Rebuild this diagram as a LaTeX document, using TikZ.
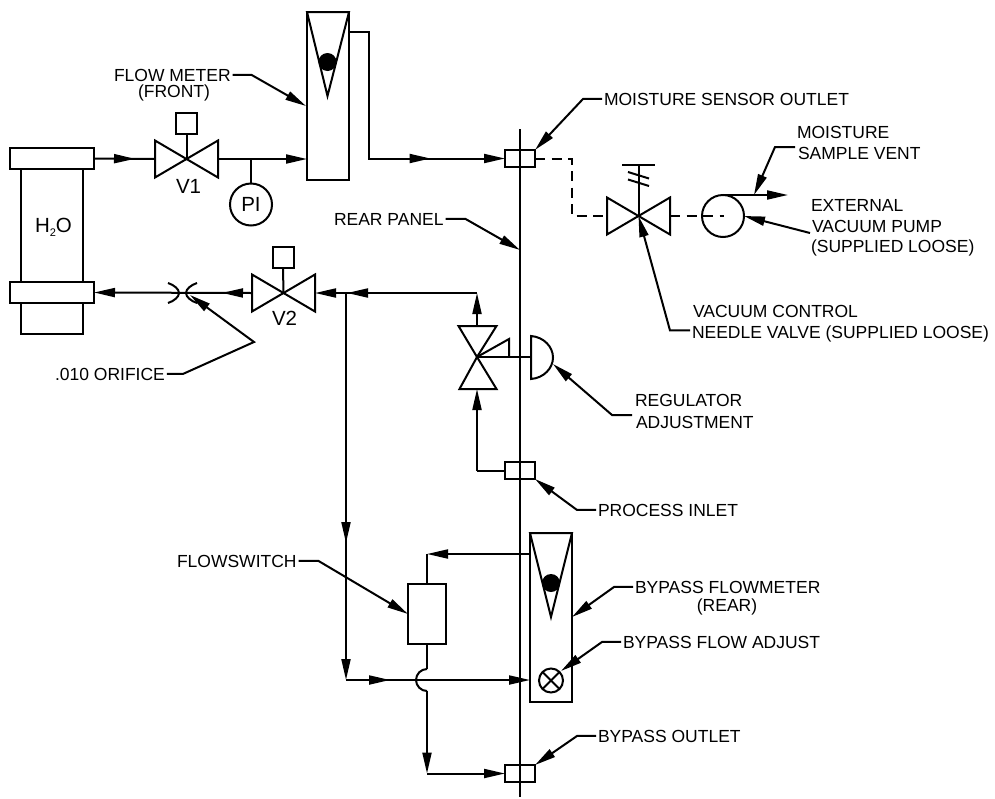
\documentclass[tikz,border=0pt]{standalone}
\usepackage{fontspec}
\setmainfont{Liberation Sans}
\usetikzlibrary{arrows.meta,decorations.markings}
\tikzset{
  tipa/.tip={Triangle[length=21pt,width=9pt]},
  pipe/.style={line width=2pt,line join=miter},
  flow/.style={pipe,-{tipa}},
  thinline/.style={line width=1.9pt},
  leader/.style={line width=2pt,-{tipa},shorten <=2pt},
  vac/.style={pipe,dash pattern=on 10pt off 6.5pt},
  box/.style={draw,line width=2pt,inner sep=0pt,outer sep=0pt},
  label/.style={inner sep=0pt,outer sep=0pt,anchor=base west,font=\fontsize{17.5}{20}\selectfont,text=black},
  biglabel/.style={label,font=\fontsize{20.5}{24}\selectfont},
  clabel/.style={label,anchor=base},
  mid/.style={postaction={decorate,decoration={markings,mark=at position #1 with {\arrow{tipa}}}}}
}
\newcommand{\hvalve}[3]{%
  \coordinate (#1) at (#2,#3);
  \coordinate (#1L) at (#2-31.5,#3);
  \coordinate (#1R) at (#2+31.5,#3);
  \draw[pipe] (#1) -- ++(-31.5,-18.5) -- ++(0,37) -- cycle;
  \draw[pipe] (#1) -- ++(31.5,-18.5) -- ++(0,37) -- cycle;
}
\begin{document}
\begin{tikzpicture}[x=1pt,y=-1pt]
\useasboundingbox[fill=white] (0,0) rectangle (995,798);

% panel
\coordinate (panelTop) at (520,129);
\coordinate (panelBot) at (520,797);
\draw[thinline] (panelTop) -- (panelBot);

% tank
\node[box,minimum width=84pt,minimum height=21pt] (fl1) at (52,158.5) {};
\node[box,minimum width=84pt,minimum height=21pt] (fl2) at (52,292.5) {};
\node[box,minimum width=62pt,minimum height=113pt] (tank) at (52,225.5) {};
\node[box,minimum width=62pt,minimum height=31pt] (tankb) at (52,318.5) {};

% flow meter front
\node[box,minimum width=42pt,minimum height=168pt] (fm) at (328,96) {};
\draw[pipe] (fm.north west) -- (fm.north east) -- (327.5,96) -- cycle;
\node[circle,fill=black,minimum size=18pt,inner sep=0pt] (fmball) at (327.5,62) {};

% bypass flow meter
\node[box,minimum width=42pt,minimum height=169pt] (bfm) at (551,617.5) {};
\draw[pipe] (bfm.north west) -- (bfm.north east) -- (551,617) -- cycle;
\node[circle,fill=black,minimum size=18pt,inner sep=0pt] (bball) at (551,583) {};
\node[box,circle,minimum size=24pt] (badj) at (551,680.5) {};
\draw[pipe] (badj.135) -- (badj.-45);
\draw[pipe] (badj.45) -- (badj.-135);

% couplers
\node[box,minimum width=30pt,minimum height=17pt] (cA) at (520,158.5) {};
\node[box,minimum width=30pt,minimum height=17pt] (cB) at (520,470.5) {};
\node[box,minimum width=30pt,minimum height=17pt] (cC) at (520,773.5) {};

% flowswitch
\node[box,minimum width=38pt,minimum height=60pt] (fs) at (427,614) {};

% valves
\hvalve{vOne}{186.5}{159}
\node[box,minimum width=21pt,minimum height=21pt] (vOneBox) at (186.5,123.5) {};
\draw[pipe] (vOneBox.south) -- (vOne);
\hvalve{vTwo}{283.5}{293}
\node[box,minimum width=21pt,minimum height=21pt] (vTwoBox) at (283,257.5) {};
\draw[pipe] (vTwoBox.south) -- (vTwo);
\hvalve{vNeedle}{638.5}{216}
\coordinate (needleTop) at (638.5,165);
\coordinate (barL) at (622,165);
\coordinate (barR) at (655,165);
\draw[pipe] (vNeedle) -- (needleTop);
\draw[pipe] (barL) -- (barR);
\coordinate (hA) at (628,172); \coordinate (hB) at (649,178.5);
\coordinate (hC) at (628,179.5); \coordinate (hD) at (649,186);
\draw[pipe] (hA) -- (hB);
\draw[pipe] (hC) -- (hD);

% regulator
\coordinate (reg) at (477,357);
\draw[pipe] (reg) -- (458.5,326) -- (496.5,326) -- cycle;
\draw[pipe] (reg) -- (459.5,389) -- (496.5,389) -- cycle;
\coordinate (regTop) at (477,326);
\coordinate (regBot) at (477,389);
\coordinate (domeT) at (531,336);
\coordinate (domeB) at (531,379);
\coordinate (domeM) at (531,357);
\draw[pipe] (reg) -- (509,339) -- (509,357);
\draw[pipe] (reg) -- (domeM);
\draw[pipe] (domeT) .. controls (544,337) and (553,347) .. (553,357.5) .. controls (553,368) and (544,378) .. (domeB) -- cycle;

% PI
\node[box,circle,minimum size=42pt,font=\fontsize{20.5}{24}\selectfont,text=black] (pi) at (251,204.5) {PI};
\coordinate (tee) at (251,159);
\draw[pipe] (tee) -- (pi.north);

% pump
\node[box,circle,minimum size=42pt] (pump) at (723,216) {};

% orifice
\coordinate (orif) at (183,293);
\draw[pipe] (168,283) .. controls (174,285) and (179,289) .. (179,293) .. controls (179,297) and (174,301) .. (168,303);
\draw[pipe] (197,283) .. controls (191,285) and (186,289) .. (186,293) .. controls (186,297) and (191,301) .. (197,303);

% pipes
\draw[pipe,mid=41pt] (fl1.east) -- (vOneL);
\draw[flow] (vOneR) -- (fm.west |- vOne);
\coordinate (fmOut) at (349,32);
\draw[flow,mid=208pt] (fmOut) -- (369,32) -- (369,158.5) -- (cA.west);
\draw[vac] (cA.east) -- (572,158.5) -- (572,216) -- (vNeedleL);
\draw[vac] (vNeedleR) -- (724,216);
\coordinate (pumpTop) at (723,195);
\coordinate (vent) at (788,195);
\draw[flow] (pumpTop) -- (vent);
\coordinate (corner) at (477,293);
\draw[flow] (regTop) -- (corner);
\draw[flow,mid=130pt] (corner) -- (vTwoR);
\draw[flow,mid=30pt] (vTwoL) -- (fl2.east);
\coordinate (teeB) at (346,293);
\coordinate (teeC) at (346,680);
\draw[flow,mid=250pt] (teeB) -- (teeC);
\draw[flow,mid=44pt] (teeC) -- (bfm.west |- teeC);
\draw[pipe] (cB.west) -- (477,470.5);
\draw[flow] (477,470.5) -- (regBot);
\coordinate (fsTop) at (427,554);
\draw[flow] (bfm.west |- fsTop) -- (fsTop);
\draw[pipe] (fsTop) -- (fs.north);
\coordinate (jumpA) at (427,669);
\coordinate (jumpB) at (427,691);
\coordinate (fsDown) at (427,773.5);
\draw[pipe] (fs.south) -- (jumpA);
\draw[pipe] (jumpA) .. controls (421,669) and (416,674) .. (416,680) .. controls (416,686) and (421,691) .. (jumpB);
\draw[flow] (jumpB) -- (fsDown);
\draw[flow] (fsDown) -- (cC.west);

% tank text
\node[biglabel] (thO) at (35,232) {H\raisebox{-4.5pt}{\fontsize{11}{12}\selectfont 2}O};
\node[biglabel] (tvOne) at (176,193) {V1};
\node[biglabel] (tvTwo) at (272,325) {V2};

% labels with leaders
\node[label] (tfm) at (114,81) {FLOW METER};
\node[clabel] (tfront) at (174,97) {(FRONT)};
\coordinate (tipFm) at (306,106);
\draw[leader] (tfm.east) -- ++(21,0) -- (tipFm);

\node[label] (tor) at (55,380) {.010 ORIFICE};
\coordinate (tipOr) at (190,295);
\draw[leader] (tor.east) -- ++(18,0) -- (254,342) -- (tipOr);

\node[label] (trp) at (334,225) {REAR PANEL};
\coordinate (tipRp) at (520,250);
\draw[leader] (trp.east) -- ++(22,0) -- (tipRp);

\node[label] (tms) at (604,105) {MOISTURE SENSOR OUTLET};
\draw[leader] (tms.west) -- ++(-21,0) -- (cA.north east);

\node[label] (tvt) at (797,138) {MOISTURE};
\node[label] (tsv) at (798,159) {SAMPLE VENT};
\coordinate (evt) at (795,147);
\coordinate (tipVent) at (754,195);
\draw[leader,shorten <=0pt] (evt) -- (775,147) -- (tipVent);

\node[label] (tex) at (811,211) {EXTERNAL};
\node[label] (tvp) at (812,232) {VACUUM PUMP};
\node[label] (tsl) at (811,252) {(SUPPLIED LOOSE)};
\coordinate (evp) at (810,233);
\draw[leader,shorten <=0pt] (evp) -- (pump.east);

\node[label] (tvc) at (693,317) {VACUUM CONTROL};
\node[label] (tnv) at (692,338) {NEEDLE VALVE (SUPPLIED LOOSE)};
\draw[leader] (tnv.west) ++(0,-3) -- ++(-22,0) -- (vNeedle);

\node[label] (trg) at (635,406) {REGULATOR};
\node[label] (tad) at (636,428) {ADJUSTMENT};
\coordinate (ereg) at (632,415);
\coordinate (tipReg) at (553,364);
\draw[leader,shorten <=0pt] (ereg) -- (612,415) -- (tipReg);

\node[label] (tpi) at (598,516) {PROCESS INLET};
\draw[leader] (tpi.west) -- ++(-21,0) -- (cB.south east);

\node[label] (tfsw) at (177,567) {FLOWSWITCH};
\coordinate (tipFs) at (408,614);
\draw[leader] (tfsw.east) -- ++(22,0) -- (tipFs);

\node[label] (tbf) at (635,593) {BYPASS FLOWMETER};
\node[clabel] (trr) at (727,611) {(REAR)};
\coordinate (tipBf) at (572,617);
\draw[leader] (tbf.west) -- ++(-21,0) -- (tipBf);

\node[label] (tba) at (623,648) {BYPASS FLOW ADJUST};
\coordinate (tipBa) at (561,671);
\draw[leader] (tba.west) -- ++(-21,0) -- (tipBa);

\node[label] (tbo) at (598,742) {BYPASS OUTLET};
\draw[leader] (tbo.west) -- ++(-21,0) -- (cC.north east);
\end{tikzpicture}
\end{document}
